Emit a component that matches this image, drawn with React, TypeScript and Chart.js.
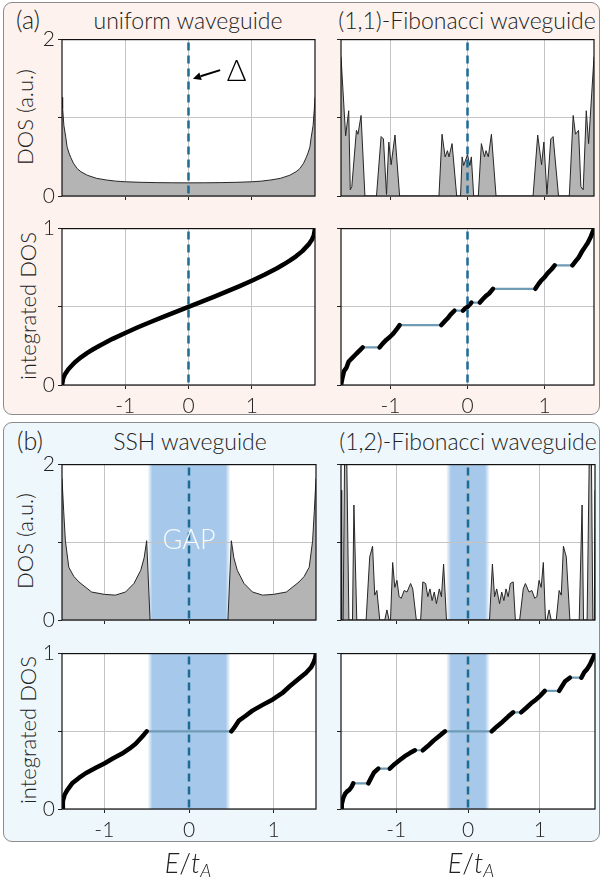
import React, { useEffect, useRef } from 'react';
import { Chart, registerables } from 'chart.js';
Chart.register(...registerables);

const FONT = 'Lato, "Open Sans", "DejaVu Sans", sans-serif';

// ---------- data ----------
const X_TICKS = [-1, 0, 1];

// uniform waveguide
const UNI_E = [-2.0, -1.99, -1.97, -1.94, -1.92, -1.89, -1.86, -1.82, -1.76, -1.7, -1.6, -1.45, -1.3, -1.15, -1.0, -0.75, -0.5, -0.25, 0, 0.25, 0.5, 0.75, 1.0, 1.15, 1.3, 1.45, 1.6, 1.7, 1.76, 1.82, 1.86, 1.89, 1.92, 1.94, 1.97, 1.99, 2.0];
const UNI_DOS = [1.26, 1.12, 0.9, 0.75, 0.63, 0.55, 0.49, 0.42, 0.35, 0.31, 0.265, 0.225, 0.205, 0.19, 0.182, 0.175, 0.171, 0.169, 0.168, 0.169, 0.171, 0.175, 0.182, 0.19, 0.205, 0.225, 0.265, 0.31, 0.35, 0.42, 0.49, 0.55, 0.63, 0.75, 0.9, 1.12, 1.26];
const UNI_IE = [-2, -1.98, -1.95, -1.9, -1.8, -1.7, -1.6, -1.5, -1.4, -1.2, -1.0, -0.8, -0.6, -0.4, -0.2, 0, 0.2, 0.4, 0.6, 0.8, 1.0, 1.2, 1.4, 1.5, 1.6, 1.7, 1.8, 1.9, 1.95, 1.98, 2];
const UNI_IDOS = [0, 0.045, 0.071, 0.101, 0.144, 0.177, 0.205, 0.23, 0.253, 0.295, 0.333, 0.369, 0.403, 0.436, 0.468, 0.5, 0.532, 0.564, 0.597, 0.631, 0.667, 0.705, 0.747, 0.77, 0.795, 0.823, 0.856, 0.899, 0.929, 0.955, 1];

// (1,1)-Fibonacci waveguide
const F11_E = [-1.64, -1.58, -1.54, -1.52, -1.5, -1.44, -1.42, -1.38, -1.33, -1.18, -1.12, -1.09, -1.05, -1.02, -0.99, -0.94, -0.88, -0.37, -0.33, -0.29, -0.26, -0.24, -0.2, -0.14, -0.09, -0.07, -0.05, 0, 0.03, 0.05, 0.08, 0.14, 0.18, 0.22, 0.24, 0.27, 0.31, 0.37, 0.85, 0.91, 0.96, 0.99, 1.03, 1.08, 1.11, 1.18, 1.32, 1.37, 1.4, 1.44, 1.47, 1.5, 1.54, 1.57, 1.64];
const F11_DOS = [1.78, 0.77, 1.09, 0.08, 0.12, 0.84, 0.79, 1.03, 0, 0, 0.76, 0.73, 0.02, 0.69, 0.4, 0.78, 0, 0, 0.79, 0.5, 0.58, 0.5, 0.67, 0, 0, 0.5, 0.39, 0.53, 0.39, 0.5, 0, 0, 0.67, 0.5, 0.58, 0.5, 0.79, 0, 0, 0.78, 0.4, 0.69, 0.02, 0.73, 0.76, 0, 0, 1.03, 0.79, 0.84, 0.12, 0.08, 1.09, 0.67, 1.78];
const F11_IE = [-1.64, -1.62, -1.6, -1.57, -1.54, -1.5, -1.46, -1.42, -1.39, -1.36, -1.14, -1.1, -1.05, -1.0, -0.96, -0.92, -0.88, -0.34, -0.3, -0.26, -0.22, -0.17, -0.06, -0.03, 0, 0.03, 0.05, 0.16, 0.2, 0.24, 0.28, 0.33, 0.88, 0.92, 0.96, 1.0, 1.04, 1.09, 1.13, 1.36, 1.4, 1.44, 1.48, 1.52, 1.56, 1.6, 1.64];
const F11_IDOS = [0, 0.05, 0.09, 0.11, 0.15, 0.17, 0.19, 0.21, 0.225, 0.24, 0.24, 0.265, 0.29, 0.31, 0.33, 0.355, 0.383, 0.383, 0.405, 0.425, 0.45, 0.475, 0.475, 0.49, 0.5, 0.515, 0.527, 0.527, 0.55, 0.57, 0.585, 0.615, 0.615, 0.645, 0.67, 0.69, 0.715, 0.74, 0.765, 0.765, 0.79, 0.815, 0.85, 0.88, 0.91, 0.95, 1.0];

// SSH waveguide
const SSH_E = [-1.5, -1.48, -1.46, -1.42, -1.36, -1.3, -1.15, -1.0, -0.87, -0.75, -0.65, -0.57, -0.53, -0.5, -0.46, 0.46, 0.5, 0.53, 0.57, 0.65, 0.75, 0.87, 1.0, 1.15, 1.3, 1.36, 1.42, 1.46, 1.48, 1.5];
const SSH_DOS = [1.82, 1.4, 1.02, 0.68, 0.56, 0.49, 0.36, 0.33, 0.32, 0.36, 0.47, 0.64, 0.8, 1.02, 0, 0, 1.02, 0.8, 0.64, 0.47, 0.36, 0.32, 0.33, 0.36, 0.49, 0.56, 0.68, 1.02, 1.4, 1.82];
const SSH_IE = [-1.5, -1.49, -1.47, -1.44, -1.38, -1.3, -1.22, -1.1, -1.0, -0.9, -0.79, -0.7, -0.63, -0.57, -0.53, -0.5, 0.5, 0.53, 0.59, 0.67, 0.75, 0.87, 0.99, 1.1, 1.19, 1.3, 1.38, 1.44, 1.47, 1.49, 1.5];
const SSH_IDOS = [0, 0.05, 0.09, 0.12, 0.165, 0.2, 0.23, 0.265, 0.293, 0.325, 0.357, 0.39, 0.42, 0.455, 0.48, 0.5, 0.5, 0.52, 0.569, 0.6, 0.633, 0.67, 0.705, 0.745, 0.79, 0.84, 0.875, 0.91, 0.94, 0.97, 1.0];
const SSH_GAP = [-0.49, 0.49];

// (1,2)-Fibonacci waveguide
const F12_E = [-1.77, -1.76, -1.74, -1.72, -1.69, -1.66, -1.61, -1.59, -1.55, -1.42, -1.37, -1.33, -1.3, -1.27, -1.23, -1.16, -1.13, -1.1, -1.08, -1.05, -1.02, -0.99, -0.96, -0.93, -0.89, -0.85, -0.8, -0.77, -0.72, -0.66, -0.63, -0.59, -0.56, -0.53, -0.5, -0.47, -0.44, -0.4, -0.37, -0.34, -0.3, 0.3, 0.34, 0.37, 0.4, 0.44, 0.47, 0.5, 0.53, 0.56, 0.59, 0.63, 0.66, 0.72, 0.77, 0.8, 0.85, 0.89, 0.93, 0.96, 0.99, 1.02, 1.05, 1.08, 1.1, 1.13, 1.16, 1.23, 1.27, 1.3, 1.33, 1.37, 1.42, 1.55, 1.59, 1.61, 1.66, 1.69, 1.72, 1.74, 1.76, 1.77];
const F12_DOS = [1.67, 0, 0, 2.1, 2.1, 0, 0, 1.48, 0, 0, 0.81, 0.95, 0.32, 0.38, 0, 0, 0.13, 0, 0, 0.74, 0.42, 0.51, 0.3, 0.28, 0.38, 0.36, 0.47, 0.4, 0, 0, 0.49, 0.47, 0.3, 0.4, 0.25, 0.36, 0.21, 0.4, 0.3, 0.72, 0, 0, 0.72, 0.3, 0.4, 0.21, 0.36, 0.25, 0.4, 0.3, 0.47, 0.49, 0, 0, 0.4, 0.47, 0.36, 0.38, 0.28, 0.3, 0.51, 0.42, 0.74, 0, 0, 0.13, 0, 0, 0.38, 0.32, 0.95, 0.81, 0, 0, 1.48, 0, 0, 2.1, 2.1, 0, 0, 1.67];
const F12_IE = [-1.77, -1.76, -1.74, -1.71, -1.68, -1.65, -1.62, -1.6, -1.39, -1.35, -1.31, -1.25, -1.09, -1.02, -0.95, -0.88, -0.81, -0.74, -0.63, -0.56, -0.48, -0.4, -0.32, 0.33, 0.4, 0.48, 0.56, 0.63, 0.74, 0.81, 0.88, 0.95, 1.01, 1.07, 1.27, 1.31, 1.35, 1.42, 1.58, 1.62, 1.66, 1.7, 1.73, 1.77];
const F12_IDOS = [0, 0.03, 0.07, 0.1, 0.115, 0.125, 0.145, 0.165, 0.165, 0.2, 0.235, 0.26, 0.26, 0.29, 0.315, 0.34, 0.36, 0.378, 0.378, 0.405, 0.44, 0.47, 0.5, 0.5, 0.53, 0.56, 0.595, 0.622, 0.622, 0.65, 0.68, 0.705, 0.73, 0.76, 0.76, 0.79, 0.82, 0.845, 0.845, 0.88, 0.9, 0.93, 0.96, 1.0];
const F12_GAP = [-0.305, 0.305];

// annotation
const DELTA_FROM = [0.5, 1.61];
const DELTA_TO = [0.07, 1.5];
const DELTA_AT = [0.76, 1.6];
const GAP_AT = [0, 1.02];

// ---------- styles ----------
const YW = 40;
const XH = 34;
const PAD = 14;
const DASH_COLOR = '#1d6a93';
const GRID = '#c4c4c4';
const SHADE = '166,200,234';
const W_LIGHT = 300;

type Box = { L: number; T: number; R: number; B: number };
type Spec = {
  kind: 'dos' | 'idos';
  E: number[];
  V: number[];
  xMax: number;
  yMax: number;
  yStep: number;
  showX: boolean;
  showY: boolean;
  box: Box;
  gap?: number[];
  gapText?: boolean;
  delta?: boolean;
};

const pts = (E: number[], V: number[]) => E.map((e, i) => ({ x: e, y: V[i] }));

function isPlateau(ctx: any) {
  return ctx.p0.parsed.y === ctx.p1.parsed.y && ctx.p1.parsed.x - ctx.p0.parsed.x > 0.05;
}

function buildConfig(s: Spec): any {
  const datasets: any[] = [
    {
      data: [{ x: 0, y: s.yMax }, { x: 0, y: 0 }],
      borderColor: DASH_COLOR,
      borderWidth: 2.5,
      borderDash: [8, 5],
      borderDashOffset: -3,
      pointRadius: 0,
      fill: false,
      order: 0,
    },
  ];
  if (s.kind === 'dos') {
    datasets.push({
      data: pts(s.E, s.V),
      borderColor: '#262626',
      borderWidth: 1,
      backgroundColor: '#b4b4b4',
      fill: 'origin',
      pointRadius: 0,
      tension: 0,
      order: 3,
    });
  } else {
    datasets.push({
      data: pts(s.E, s.V),
      borderColor: '#6f9bb5',
      borderWidth: 2.2,
      pointRadius: 0,
      fill: false,
      order: 2,
    });
    datasets.push({
      data: pts(s.E, s.V),
      borderColor: '#000',
      borderWidth: 4.5,
      borderCapStyle: 'round',
      borderJoinStyle: 'round',
      pointRadius: 0,
      fill: false,
      order: 1,
      segment: { borderColor: (ctx: any) => (isPlateau(ctx) ? 'rgba(0,0,0,0)' : '#000') },
    });
  }

  const plugin = {
    id: 'decor',
    beforeDraw(chart: any) {
      const { ctx, chartArea: a, scales } = chart;
      ctx.save();
      ctx.fillStyle = '#fff';
      ctx.fillRect(a.left, a.top, a.width, a.height);
      if (s.gap) {
        const x0 = scales.x.getPixelForValue(s.gap[0]);
        const x1 = scales.x.getPixelForValue(s.gap[1]);
        const g = ctx.createLinearGradient(x0, 0, x1, 0);
        const f = 5 / (x1 - x0);
        g.addColorStop(0, `rgba(${SHADE},0)`);
        g.addColorStop(f, `rgba(${SHADE},1)`);
        g.addColorStop(1 - f, `rgba(${SHADE},1)`);
        g.addColorStop(1, `rgba(${SHADE},0)`);
        ctx.fillStyle = g;
        ctx.fillRect(x0, a.top, x1 - x0, a.height);
      }
      ctx.restore();
    },
    afterDatasetsDraw(chart: any) {
      const { ctx, chartArea: a, scales } = chart;
      ctx.save();
      if (s.gapText) {
        ctx.fillStyle = 'rgba(255,255,255,0.92)';
        ctx.font = `${W_LIGHT} 27px ${FONT}`;
        ctx.textAlign = 'center';
        ctx.textBaseline = 'middle';
        ctx.fillText('GAP', scales.x.getPixelForValue(GAP_AT[0]), scales.y.getPixelForValue(GAP_AT[1]));
      }
      if (s.delta) {
        const x0 = scales.x.getPixelForValue(DELTA_FROM[0]);
        const y0 = scales.y.getPixelForValue(DELTA_FROM[1]);
        const x1 = scales.x.getPixelForValue(DELTA_TO[0]);
        const y1 = scales.y.getPixelForValue(DELTA_TO[1]);
        const ang = Math.atan2(y1 - y0, x1 - x0);
        const hl = 8, hw = 4;
        const bx = x1 - hl * Math.cos(ang), by = y1 - hl * Math.sin(ang);
        ctx.strokeStyle = '#000';
        ctx.fillStyle = '#000';
        ctx.lineWidth = 2;
        ctx.beginPath();
        ctx.moveTo(x0, y0);
        ctx.lineTo(bx, by);
        ctx.stroke();
        ctx.beginPath();
        ctx.moveTo(x1, y1);
        ctx.lineTo(bx + hw * Math.sin(ang), by - hw * Math.cos(ang));
        ctx.lineTo(bx - hw * Math.sin(ang), by + hw * Math.cos(ang));
        ctx.closePath();
        ctx.fill();
        ctx.font = `${W_LIGHT} 30px ${FONT}`;
        ctx.textAlign = 'center';
        ctx.textBaseline = 'middle';
        ctx.fillText('Δ', scales.x.getPixelForValue(DELTA_AT[0]), scales.y.getPixelForValue(DELTA_AT[1]));
      }
      ctx.strokeStyle = '#111';
      ctx.lineWidth = 1.2;
      ctx.strokeRect(a.left, a.top, a.width, a.height);
      ctx.restore();
    },
  };

  const tickFont = { size: 21, family: FONT, weight: W_LIGHT };
  return {
    type: 'line',
    data: { datasets },
    plugins: [plugin],
    options: {
      animation: false,
      responsive: false,
      devicePixelRatio: 1,
      layout: { padding: PAD },
      plugins: { legend: { display: false }, tooltip: { enabled: false } },
      scales: {
        x: {
          type: 'linear',
          min: -s.xMax,
          max: s.xMax,
          afterBuildTicks: (sc: any) => {
            sc.ticks = X_TICKS.map((v) => ({ value: v }));
          },
          ticks: {
            autoSkip: false,
            maxRotation: 0,
            padding: 5,
            color: '#222',
            font: tickFont,
            callback: (v: number) => (s.showX ? String(v) : ''),
          },
          grid: { color: GRID, lineWidth: 1, tickLength: 4, tickColor: '#222', drawTicks: true },
          border: { display: false },
          afterFit: (sc: any) => {
            sc.height = XH;
          },
        },
        y: {
          type: 'linear',
          min: 0,
          max: s.yMax,
          ticks: {
            stepSize: s.yStep,
            autoSkip: false,
            padding: 3,
            color: '#222',
            font: tickFont,
            callback: (v: number) => (s.showY && (v === 0 || v === s.yMax) ? String(v) : ''),
          },
          grid: { color: GRID, lineWidth: 1, tickLength: 4, tickColor: '#222', drawTicks: true },
          border: { display: false },
          afterFit: (sc: any) => {
            sc.width = YW;
          },
        },
      },
    },
  };
}

function Panel({ spec }: { spec: Spec }) {
  const ref = useRef<HTMLCanvasElement>(null);
  useEffect(() => {
    const chart = new Chart(ref.current as HTMLCanvasElement, buildConfig(spec));
    return () => chart.destroy();
  }, []);
  const { L, T, R, B } = spec.box;
  const w = R - L + YW + 2 * PAD;
  const h = B - T + XH + 2 * PAD;
  return (
    <canvas
      ref={ref}
      width={w}
      height={h}
      style={{ position: 'absolute', left: L - YW - PAD, top: T - PAD, width: w, height: h }}
    />
  );
}

const PANELS: Spec[] = [
  { kind: 'dos', E: UNI_E, V: UNI_DOS, xMax: 2, yMax: 2, yStep: 1, showX: false, showY: true, box: { L: 62, T: 38, R: 315, B: 196 }, delta: true },
  { kind: 'dos', E: F11_E, V: F11_DOS, xMax: 1.64, yMax: 2, yStep: 1, showX: false, showY: false, box: { L: 341, T: 38, R: 594, B: 196 } },
  { kind: 'idos', E: UNI_IE, V: UNI_IDOS, xMax: 2, yMax: 1, yStep: 0.5, showX: true, showY: true, box: { L: 62, T: 227, R: 315, B: 385 } },
  { kind: 'idos', E: F11_IE, V: F11_IDOS, xMax: 1.64, yMax: 1, yStep: 0.5, showX: true, showY: false, box: { L: 341, T: 227, R: 594, B: 385 } },
  { kind: 'dos', E: SSH_E, V: SSH_DOS, xMax: 1.5, yMax: 2, yStep: 1, showX: false, showY: true, box: { L: 62, T: 463, R: 316, B: 620 }, gap: SSH_GAP, gapText: true },
  { kind: 'dos', E: F12_E, V: F12_DOS, xMax: 1.77, yMax: 2, yStep: 1, showX: false, showY: false, box: { L: 341, T: 463, R: 595, B: 620 }, gap: F12_GAP },
  { kind: 'idos', E: SSH_IE, V: SSH_IDOS, xMax: 1.5, yMax: 1, yStep: 0.5, showX: true, showY: true, box: { L: 62, T: 652, R: 316, B: 809 }, gap: SSH_GAP },
  { kind: 'idos', E: F12_IE, V: F12_IDOS, xMax: 1.77, yMax: 1, yStep: 0.5, showX: true, showY: false, box: { L: 341, T: 652, R: 595, B: 809 }, gap: F12_GAP },
];

const textBase: React.CSSProperties = {
  position: 'absolute',
  fontFamily: FONT,
  fontWeight: W_LIGHT,
  color: '#222',
  lineHeight: 1,
  whiteSpace: 'nowrap',
};

function Label({ cx, cy, size, rotate, children }: { cx: number; cy: number; size: number; rotate?: boolean; children: React.ReactNode }) {
  return (
    <div
      style={{
        ...textBase,
        left: cx,
        top: cy,
        fontSize: size,
        transform: `translate(-50%, -50%)${rotate ? ' rotate(-90deg)' : ''}`,
      }}
    >
      {children}
    </div>
  );
}

function XLabel({ cx }: { cx: number }) {
  return (
    <Label cx={cx} cy={864} size={27}>
      <i>E</i>/<i>t</i>
      <sub style={{ fontSize: 18, fontStyle: 'italic', verticalAlign: '-4px' }}>A</sub>
    </Label>
  );
}

export default function App() {
  const boxStyle: React.CSSProperties = {
    position: 'absolute',
    left: 3,
    width: 597,
    borderRadius: 9,
    border: '1.5px solid #8c8c8c',
    boxSizing: 'border-box',
  };
  return (
    <div style={{ position: 'absolute', left: 0, top: 0, width: 602, height: 883, background: '#fff', overflow: 'hidden' }}>
      <div style={{ ...boxStyle, top: 2, height: 413, background: '#fdf2ed' }} />
      <div style={{ ...boxStyle, top: 422, height: 420, background: '#eef7fb' }} />

      <Label cx={28} cy={19} size={25}>(a)</Label>
      <Label cx={188} cy={20} size={23}>uniform waveguide</Label>
      <Label cx={467} cy={20} size={23}>(1,1)-Fibonacci waveguide</Label>
      <Label cx={25} cy={117} size={22} rotate>DOS (a.u.)</Label>
      <Label cx={28} cy={306} size={22} rotate>integrated DOS</Label>

      <Label cx={30} cy={440} size={25}>(b)</Label>
      <Label cx={190} cy={441} size={23}>SSH waveguide</Label>
      <Label cx={468} cy={441} size={23}>(1,2)-Fibonacci waveguide</Label>
      <Label cx={25} cy={541} size={22} rotate>DOS (a.u.)</Label>
      <Label cx={28} cy={730} size={22} rotate>integrated DOS</Label>

      {PANELS.map((p, i) => (
        <Panel key={i} spec={p} />
      ))}

      <XLabel cx={188} />
      <XLabel cx={471} />
    </div>
  );
}
